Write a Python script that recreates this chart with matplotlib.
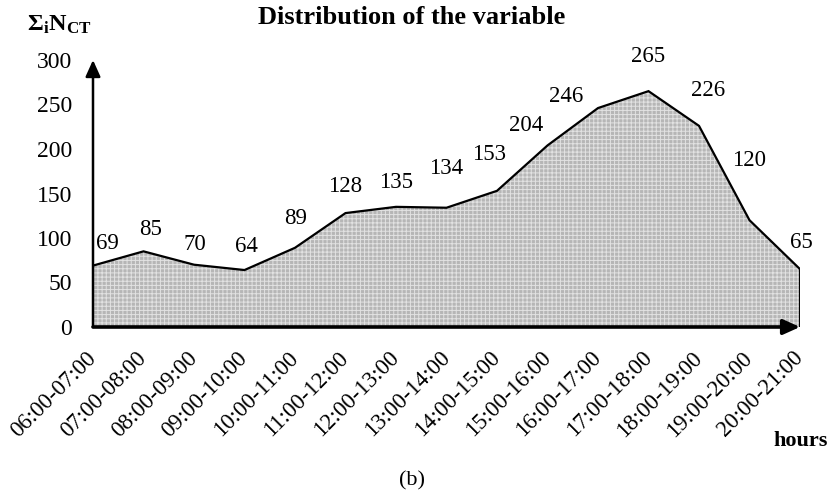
import numpy as np
import matplotlib
matplotlib.use("Agg")
import matplotlib.pyplot as plt

plt.rcParams["font.family"] = "Liberation Serif"
plt.rcParams["mathtext.fontset"] = "custom"
plt.rcParams["mathtext.rm"] = "Liberation Serif"
plt.rcParams["mathtext.bf"] = "Liberation Serif:bold"
plt.rcParams["mathtext.it"] = "Liberation Serif:italic"
plt.rcParams["hatch.linewidth"] = 0.7

# data
hours = ["06:00-07:00", "07:00-08:00", "08:00-09:00", "09:00-10:00",
         "10:00-11:00", "11:00-12:00", "12:00-13:00", "13:00-14:00",
         "14:00-15:00", "15:00-16:00", "16:00-17:00", "17:00-18:00",
         "18:00-19:00", "19:00-20:00", "20:00-21:00"]
counts = [69, 85, 70, 64, 89, 128, 135, 134, 153, 204, 246, 265, 226, 120, 65]
yticks = [0, 50, 100, 150, 200, 250, 300]

# label offsets in pixels (dx, dy), hand placed like the original
label_dx = [14, 7, 1, 2, 1, 0, 0, 0, -8, -21, -32, 0, 9, 0, 1]
label_dy = [22, 22, 20, 24, 29, 27, 24, 39, 36, 20, 12, 35, 35, 60, 27]

fig = plt.figure(figsize=(8.31, 4.97), dpi=100)
ax = fig.add_axes([93 / 831, 1 - 327 / 497, 707 / 831, 267 / 497])

x = np.arange(len(counts))
ax.fill_between(x, 0, counts, facecolor="#b6b6b6", edgecolor="#e2e2e2",
                hatch="++++", linewidth=0)
ax.plot(x, counts, color="black", lw=1.6, solid_joinstyle="miter")
ax.vlines(x[-1], 0, counts[-1], color="black", lw=1.6)

for xi, v, dx, dy in zip(x, counts, label_dx, label_dy):
    ax.annotate(str(v), (xi, v), xytext=(dx, dy), textcoords="offset pixels",
                ha="center", va="center", fontsize=16.5)

ax.set_xlim(0, len(counts) - 1)
ax.set_ylim(0, 300)
ax.set_yticks(yticks)
ax.set_xticks(x)
ax.set_xticklabels(hours, rotation=45, ha="right", va="center",
                   rotation_mode="anchor")
ax.tick_params(axis="both", length=0)
ax.tick_params(axis="y", pad=15, labelsize=17)
ax.tick_params(axis="x", pad=20, labelsize=16.5)

for s in ["top", "right", "left", "bottom"]:
    ax.spines[s].set_visible(False)

# axes with arrow heads
ax.annotate("", xy=(0, 1), xytext=(0, 0), xycoords="axes fraction",
            arrowprops=dict(arrowstyle="-|>,head_length=1.0,head_width=0.45",
                            color="black", lw=1.8, shrinkA=0, shrinkB=0))
ax.annotate("", xy=(1, 0), xytext=(0, 0), xycoords="axes fraction",
            arrowprops=dict(arrowstyle="-|>,head_length=1.0,head_width=0.45",
                            color="black", lw=2.6, shrinkA=0, shrinkB=0))

fig.text(412 / 831, 1 - 18 / 497, "Distribution of the variable",
         ha="center", va="center", fontsize=19, fontweight="bold")
fig.text(27 / 831, 1 - 25 / 497, r"$\mathbf{\Sigma_i N_{CT}}$",
         ha="left", va="center", fontsize=17.5)
fig.text(801 / 831, 1 - 441 / 497, "hours", ha="center", va="center",
         fontsize=16, fontweight="bold")
fig.text(412 / 831, 1 - 481 / 497, "(b)", ha="center", va="center",
         fontsize=16)

fig.savefig("out.png", dpi=100)
